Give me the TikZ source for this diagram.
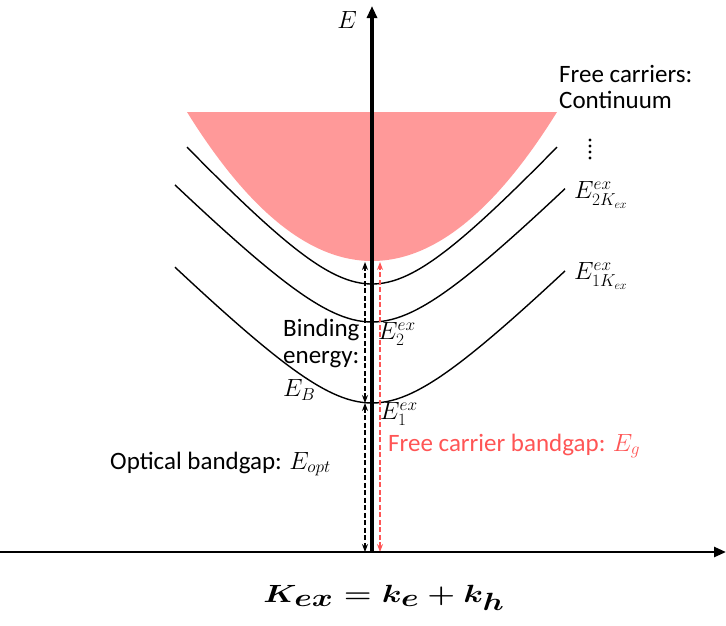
\documentclass[tikz,border=0pt]{standalone}
\usepackage{amsmath}
\usepackage{fontspec}
\setmainfont{Carlito}
\usetikzlibrary{arrows.meta}
\definecolor{pinkc}{RGB}{255,153,153}
\definecolor{redc}{RGB}{255,85,85}
\tikzset{
  curve/.style={line width=1.4pt, black},
  axis/.style={line width=3.2pt, -{Triangle[length=12pt,width=10pt]}},
  dasharr/.style={dash pattern=on 5pt off 2.5pt, line width=1.1pt, {Stealth[length=8pt,width=6pt]}-{Stealth[length=8pt,width=6pt]}},
  txt/.style={font=\fontsize{25}{30}\selectfont, inner sep=0pt},
  mth/.style={font=\fontsize{26}{30}\selectfont, inner sep=0pt},
  dot/.style={fill=black, inner sep=0pt, minimum size=3.2pt, circle},
}
\begin{document}
\begin{tikzpicture}[x=1pt,y=-1pt]
\useasboundingbox (0,0) rectangle (726,625);
% continuum
\fill[pinkc] plot[domain=-185:185, samples=80] ({372+\x},{261-149*(\x/185)*(\x/185)}) -- cycle;
% exciton bands
\draw[curve] plot[domain=-185:185, samples=80] ({372+\x},{284-82.4*(sqrt(1+(\x/75)*(\x/75))-1)});
\draw[curve] plot[domain=-197:193, samples=80] ({372+\x},{322-75.7*(sqrt(1+(\x/75)*(\x/75))-1)});
\draw[curve] plot[domain=-197:193, samples=80] ({372+\x},{403-75*(sqrt(1+(\x/75)*(\x/75))-1)});
% coordinates
\coordinate (O) at (372,552);
\coordinate (Etop) at (372,6);
\coordinate (xL) at (0,552);
\coordinate (xR) at (726,552);
\coordinate (pB) at (365,262);
\coordinate (e1) at (365,403);
\coordinate (bB) at (365,552);
\coordinate (rT) at (380,262);
\coordinate (rB) at (380,552);
% arrows
\draw[dasharr] (e1) -- (pB);
\draw[dasharr] (e1) -- (bB);
\draw[dasharr, redc] (rB) -- (rT);
% axes
\draw[axis] (O) -- (Etop);
\draw[axis, line width=2.6pt] (xL) -- (xR);
% labels
\node[font=\fontsize{24}{28}\selectfont, inner sep=0pt] (Elab) at (347,20) {$E$};
\node[txt, anchor=base west] (fc1) at (559,82) {Free carriers:};
\node[txt, anchor=base west] (fc2) at (559,108) {Continuum};
\node[dot] (d1) at (590,140) {};
\node[dot] (d2) at (590,146) {};
\node[dot] (d3) at (590,152) {};
\node[dot] (d4) at (590,158) {};
\node[mth, anchor=west] (E2K) at (574,195) {$E^{ex}_{2K_{ex}}$};
\node[mth, anchor=west] (E1K) at (574,276) {$E^{ex}_{1K_{ex}}$};
\node[txt, anchor=base west] (bind1) at (283,336) {Binding};
\node[txt, anchor=base west] (bind2) at (283,363) {energy:};
\node[mth, anchor=west] (EB) at (283,390) {$E_B$};
\node[mth, anchor=west] (E2) at (378,334) {$E^{ex}_2$};
\node[mth, anchor=west] (E1) at (380,414) {$E^{ex}_1$};
\node[txt, anchor=base west, text=redc] (fcb) at (388,451) {Free carrier bandgap: $E_g$};
\node[txt, anchor=base west] (ob) at (110,469) {Optical bandgap: $E_{opt}$};
\node[font=\fontsize{34}{40}\selectfont, inner sep=0pt, xscale=1.28] (K) at (384,598) {$\boldsymbol{K_{ex} = k_e + k_h}$};
\end{tikzpicture}
\end{document}
